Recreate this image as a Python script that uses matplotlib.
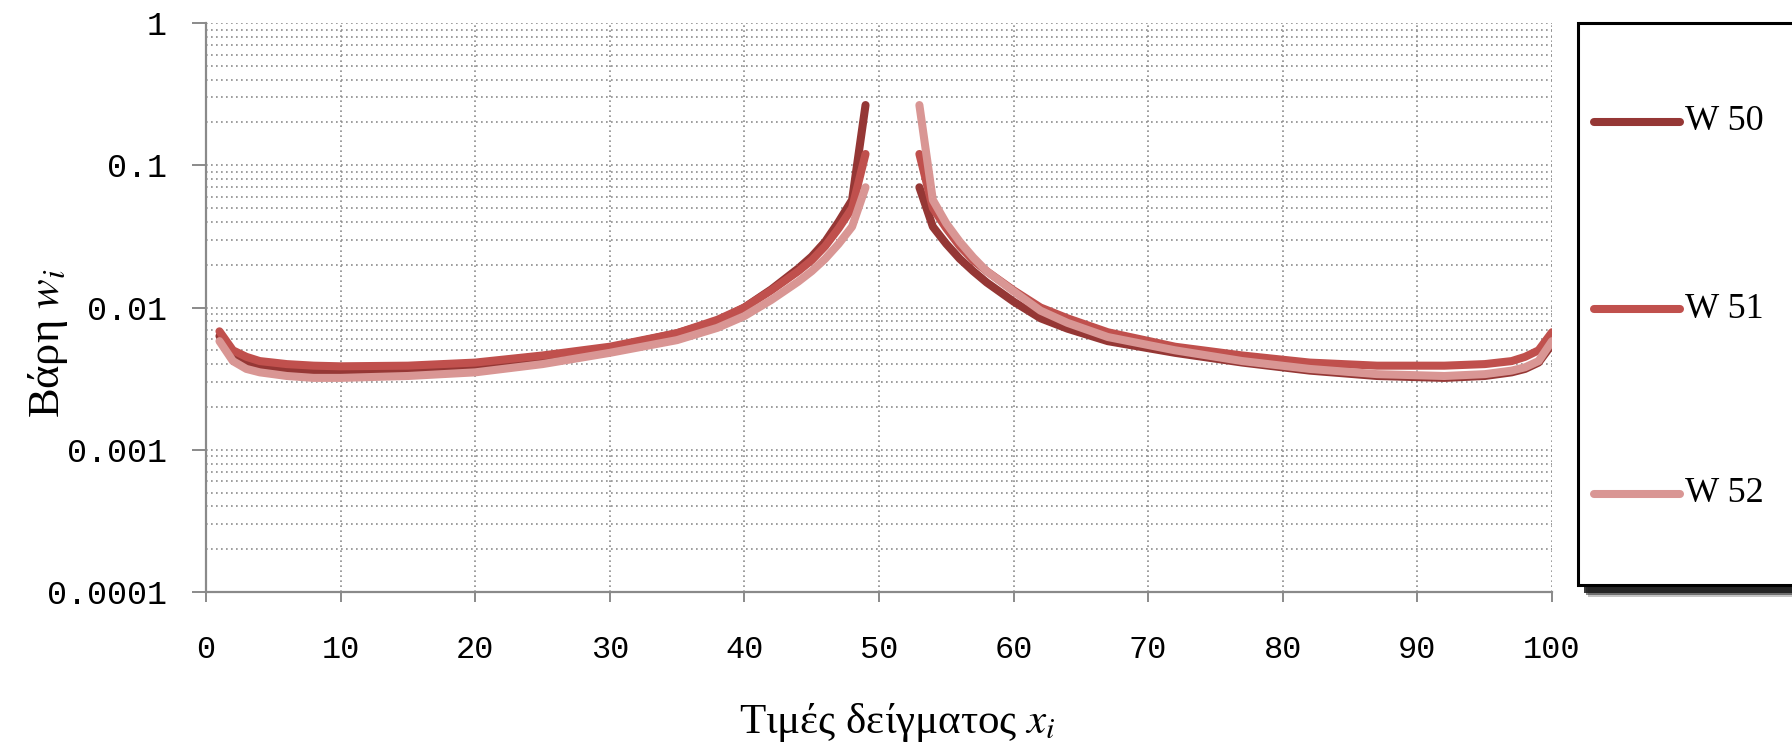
import matplotlib
matplotlib.use('Agg')
import numpy as np
import matplotlib.pyplot as plt
from matplotlib.patches import Rectangle
from matplotlib.lines import Line2D
from matplotlib.ticker import FixedLocator, FixedFormatter, LogLocator, NullFormatter

# ---------------- data ----------------
x_left = [1, 2, 3, 4, 5, 6, 8, 10, 15, 20, 25, 30, 35, 38, 40, 42, 44, 45, 46, 47, 48, 49]
x_right = [53, 54, 55, 56, 57, 58, 60, 62, 64, 67, 72, 77, 82, 87, 92, 95, 97, 98, 99, 100]

w50_left = [0.0063, 0.0047, 0.0042, 0.0039, 0.0038, 0.0037, 0.0036, 0.0035, 0.0036, 0.0038,
            0.0044, 0.0052, 0.0066, 0.0080, 0.0100, 0.0134, 0.0188, 0.0228, 0.029, 0.040, 0.057, 0.265]
w51_left = [0.0068, 0.0050, 0.0045, 0.0042, 0.0041, 0.0040, 0.0039, 0.00386, 0.0039, 0.0041,
            0.0046, 0.0053, 0.0066, 0.0082, 0.0100, 0.0132, 0.0180, 0.0215, 0.027, 0.036, 0.050, 0.120]
w52_left = [0.0058, 0.0042, 0.0037, 0.0035, 0.0034, 0.0033, 0.0032, 0.0032, 0.0033, 0.0035,
            0.0040, 0.0048, 0.0059, 0.0072, 0.0087, 0.0113, 0.0152, 0.0180, 0.022, 0.028, 0.037, 0.070]

w50_right = [0.070, 0.037, 0.028, 0.022, 0.018, 0.015, 0.011, 0.0084, 0.0071, 0.0058,
             0.0048, 0.0041, 0.0036, 0.0033, 0.0032, 0.0033, 0.0035, 0.0037, 0.0041, 0.0055]
w51_right = [0.120, 0.050, 0.036, 0.027, 0.0215, 0.018, 0.0132, 0.0100, 0.0084, 0.0067,
             0.0053, 0.0046, 0.0041, 0.0039, 0.0039, 0.0040, 0.0042, 0.0045, 0.0050, 0.0067]
w52_right = [0.265, 0.057, 0.039, 0.029, 0.0225, 0.018, 0.013, 0.0095, 0.0078, 0.0062,
             0.0050, 0.0042, 0.0037, 0.0034, 0.0033, 0.0034, 0.0036, 0.0038, 0.0042, 0.0058]

series_names = ['W 50', 'W 51', 'W 52']
series_colors = ['#953735', '#C0504D', '#D99694']

x_ticks = [0, 10, 20, 30, 40, 50, 60, 70, 80, 90, 100]
y_ticks = [0.0001, 0.001, 0.01, 0.1, 1]
y_tick_labels = ['0.0001', '0.001', '0.01', '0.1', '1']

x_label = 'Τιμές δείγματος $x_i$'
y_label = 'Βάρη $w_i$'

# ---------------- figure ----------------
W, H = 1792, 743
plt.rcParams['mathtext.fontset'] = 'stix'
fig = plt.figure(figsize=(W / 100, H / 100), dpi=100)
fig.patch.set_facecolor('white')

ax_l, ax_r, ax_t, ax_b = 206, 1552, 23, 592
ax = fig.add_axes([ax_l / W, 1 - ax_b / H, (ax_r - ax_l) / W, (ax_b - ax_t) / H])

lefts = [w50_left, w51_left, w52_left]
rights = [w50_right, w51_right, w52_right]
lines = []
for name, col, yl, yr in zip(series_names, series_colors, lefts, rights):
    xs = list(x_left) + [np.nan] + list(x_right)
    ys = list(yl) + [np.nan] + list(yr)
    ln, = ax.plot(xs, ys, color=col, lw=5.8, solid_capstyle='round',
                  solid_joinstyle='round', label=name, zorder=3)
    lines.append(ln)

ax.set_yscale('log')
ax.set_xlim(0, 100)
ax.set_ylim(1e-4, 1)

ax.xaxis.set_major_locator(FixedLocator(x_ticks))
ax.yaxis.set_major_locator(FixedLocator(y_ticks))
ax.yaxis.set_major_formatter(FixedFormatter(y_tick_labels))
ax.yaxis.set_minor_locator(LogLocator(base=10, subs=np.arange(2, 10), numticks=20))
ax.yaxis.set_minor_formatter(NullFormatter())

grid_kw = dict(color='#8c8c8c', linestyle=(0, (1, 2)), linewidth=1.2)
ax.grid(True, which='major', axis='both', **grid_kw)
ax.grid(True, which='minor', axis='y', **grid_kw)
ax.set_axisbelow(True)

for s in ['top', 'right']:
    ax.spines[s].set_visible(False)
for s in ['left', 'bottom']:
    ax.spines[s].set_color('#8a8a8a')
    ax.spines[s].set_linewidth(1.6)

tick_font = 'Liberation Mono'
ax.tick_params(axis='y', which='major', length=10, width=1.4, color='#8a8a8a',
               pad=18, labelsize=24)
ax.tick_params(axis='y', which='minor', length=0)
ax.tick_params(axis='x', which='major', length=7, width=1.4, color='#8a8a8a',
               pad=24, labelsize=23)
for lab in ax.get_xticklabels() + ax.get_yticklabels():
    lab.set_fontfamily(tick_font)

ax.set_xlabel(x_label, fontsize=31, family='Liberation Serif')
ax.set_ylabel(y_label, fontsize=32, family='Liberation Serif')
ax.xaxis.set_label_coords((897 - ax_l) / (ax_r - ax_l), -(723 - ax_b) / (ax_b - ax_t))
ax.xaxis.label.set_va('center')
ax.yaxis.set_label_coords(-(ax_l - 48) / (ax_r - ax_l), (ax_b - 343) / (ax_b - ax_t))
ax.yaxis.label.set_va('center')

# ---------------- legend (boxed panel, partly cut by the figure edge) ----------------
def fx(px):
    return px / W

def fy(py):
    return 1 - py / H

lg_l, lg_t, lg_b, lg_r = 1578, 23, 585, 1810
for off, a in [(10, 0.25), (8, 0.5), (6, 0.85)]:
    shadow = Rectangle((fx(lg_l + off), fy(lg_b + off + 2)), fx(lg_r - lg_l), (lg_b - lg_t) / H,
                       transform=fig.transFigure, facecolor='#1a1a1a', edgecolor='none',
                       alpha=a, zorder=5)
    fig.add_artist(shadow)
box = Rectangle((fx(lg_l), fy(lg_b)), fx(lg_r - lg_l), (lg_b - lg_t) / H,
                transform=fig.transFigure, facecolor='white', edgecolor='black',
                linewidth=2.2, zorder=6)
fig.add_artist(box)

entry_y = [122, 309, 494]
for ln, ey in zip(lines, entry_y):
    fig.add_artist(Line2D([fx(1594), fx(1680)], [fy(ey), fy(ey)], transform=fig.transFigure,
                          color=ln.get_color(), lw=5.8, solid_capstyle='round', zorder=7))
    fig.text(fx(1685), fy(ey), ln.get_label(), fontsize=26, family='Liberation Serif',
             va='center', ha='left', zorder=7)

fig.savefig('out.png', dpi=100)
